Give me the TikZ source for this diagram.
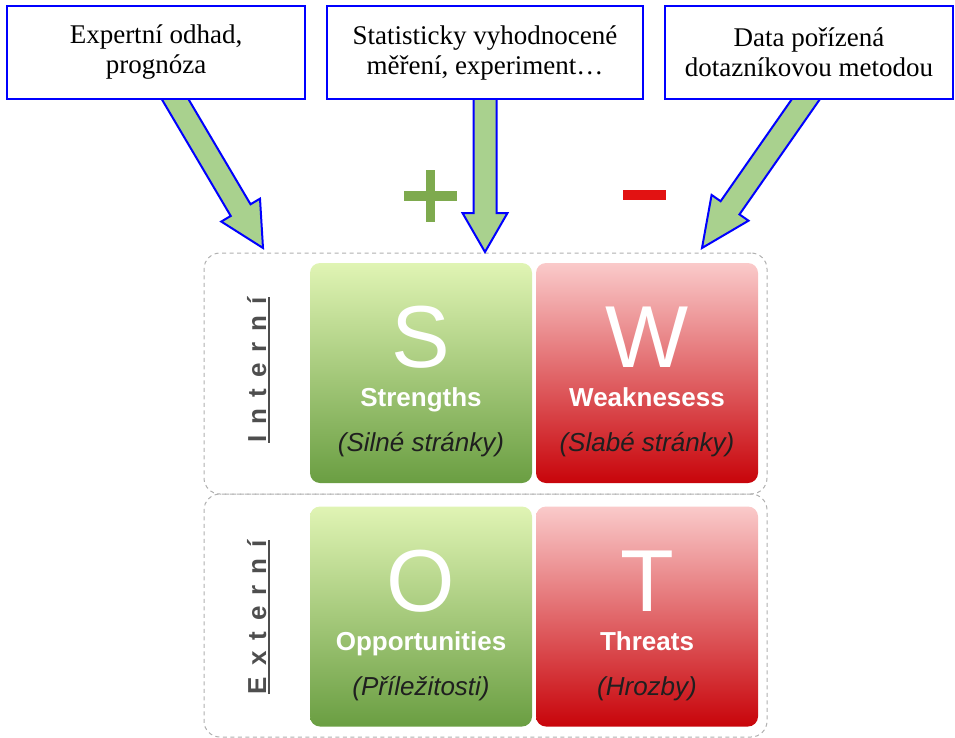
\documentclass[tikz,border=0pt]{standalone}
\usepackage{fontspec}
\setmainfont{Liberation Serif}
\newfontfamily\swotfont{Liberation Sans}
\usetikzlibrary{calc}
\definecolor{boxblue}{RGB}{0,0,255}
\definecolor{arrgreen}{RGB}{169,209,142}
\definecolor{gtop}{RGB}{224,244,180}
\definecolor{gbot}{RGB}{106,158,66}
\definecolor{rtop}{RGB}{250,202,202}
\definecolor{rbot}{RGB}{200,4,10}
\definecolor{plusg}{RGB}{126,170,78}
\definecolor{minusr}{RGB}{226,18,18}
\definecolor{labgray}{RGB}{78,78,78}
\definecolor{framegray}{RGB}{175,175,175}
\newcommand\sideul[1]{\setbox0\hbox{#1}\rlap{\rule[-3.5pt]{\wd0}{1.6pt}}\box0}
\newcommand\fatarrow[3]{%
  \coordinate (hb) at ($(#2)!#3!(#1)$);
  \coordinate (s0) at ($(#1)!-14pt!(#2)$);
  \filldraw[fatarr] ($(s0)!11.5pt!90:(#2)$) -- ($(hb)!11.5pt!90:(#2)$) --
    ($(hb)!22.5pt!90:(#2)$) -- (#2) -- ($(hb)!22.5pt!-90:(#2)$) --
    ($(hb)!11.5pt!-90:(#2)$) -- ($(s0)!11.5pt!-90:(#2)$) -- cycle;
}
\begin{document}
\begin{tikzpicture}[x=1pt,y=-1pt,
  srcbox/.style={draw=boxblue, line width=2.6pt, fill=white, align=center,
    inner sep=0pt, minimum height=93pt, font=\fontsize{27}{30}\selectfont},
  fatarr/.style={draw=boxblue, line width=2pt, fill=arrgreen, line join=miter},
  frame/.style={draw=framegray, line width=1pt, dash pattern=on 4pt off 3.5pt,
    rounded corners=16pt, minimum width=563pt, inner sep=0pt},
  sq/.style={rounded corners=10pt, minimum width=222pt, minimum height=220pt, inner sep=0pt},
  gsq/.style={sq, top color=gtop, bottom color=gbot},
  rsq/.style={sq, top color=rtop, bottom color=rbot},
  bigl/.style={font=\swotfont\fontsize{88}{88}\selectfont, text=white, anchor=base, inner sep=0pt},
  boldl/.style={font=\swotfont\bfseries\fontsize{26}{26}\selectfont, text=white, anchor=base, inner sep=0pt},
  itl/.style={font=\swotfont\itshape\fontsize{26}{26}\selectfont, text=black!88, anchor=base, inner sep=0pt},
  side/.style={font=\swotfont\bfseries\fontsize{26}{26}\selectfont, text=labgray, rotate=90, anchor=base, inner sep=0pt},
]
\useasboundingbox (0,0) rectangle (955,738);

% dashed frames
\node[frame, minimum height=241pt] (fint) at (485.5,373.5) {};
\node[frame, minimum height=243pt] (fext) at (485.5,615.5) {};

% plus / minus
\fill[plusg] (404,191.5) rectangle (457,200.5);
\fill[plusg] (426,170) rectangle (435,222);
\fill[minusr] (623,190) rectangle (666,200);

% source boxes (positions)
\path (156,52.5) coordinate (c1) (485,52.5) coordinate (c2) (809,52.5) coordinate (c3);
\coordinate (t1) at (263,248);
\coordinate (t2) at (485,252);
\coordinate (t3) at (702,248);

% arrows (drawn under the boxes)
\coordinate (a1) at (175,99);
\coordinate (a2) at (485,99);
\coordinate (a3) at (806,99);
\fatarrow{a1}{t1}{44pt}
\fatarrow{a2}{t2}{39pt}
\fatarrow{a3}{t3}{49pt}

\node[srcbox, minimum width=298pt] (b1) at (c1) {Expertní odhad,\\prognóza};
\node[srcbox, minimum width=316pt] (b2) at (c2) {Statisticky vyhodnocené\\měření, experiment…};
\node[srcbox, minimum width=288pt] (b3) at (c3) {Data pořízená\\dotazníkovou metodou};

% SWOT squares
\node[gsq] (sS) at (421,373) {};
\node[rsq] (sW) at (647,373) {};
\node[gsq] (sO) at (421,616.5) {};
\node[rsq] (sT) at (647,616.5) {};

\foreach \q/\L/\B/\I in {sS/S/Strengths/(Silné stránky), sW/W/Weaknesess/(Slabé stránky),
    sO/O/Opportunities/(Příležitosti), sT/T/Threats/(Hrozby)} {
  \node[bigl] (\q-l) at ($(\q.north)+(0,105)$) {\L};
  \node[boldl] (\q-b) at ($(\q.north)+(0,144)$) {\B};
  \node[itl] (\q-i) at ($(\q.north)+(0,189)$) {\I};
}

% side labels
\node[side] (lint) at (266,370) {\sideul{I\kern11pt n\kern11pt t\kern11pt e\kern11pt r\kern11pt n\kern11pt í}};
\node[side] (lext) at (266,617) {\sideul{E\kern11pt x\kern11pt t\kern11pt e\kern11pt r\kern11pt n\kern11pt í}};
\end{tikzpicture}
\end{document}
